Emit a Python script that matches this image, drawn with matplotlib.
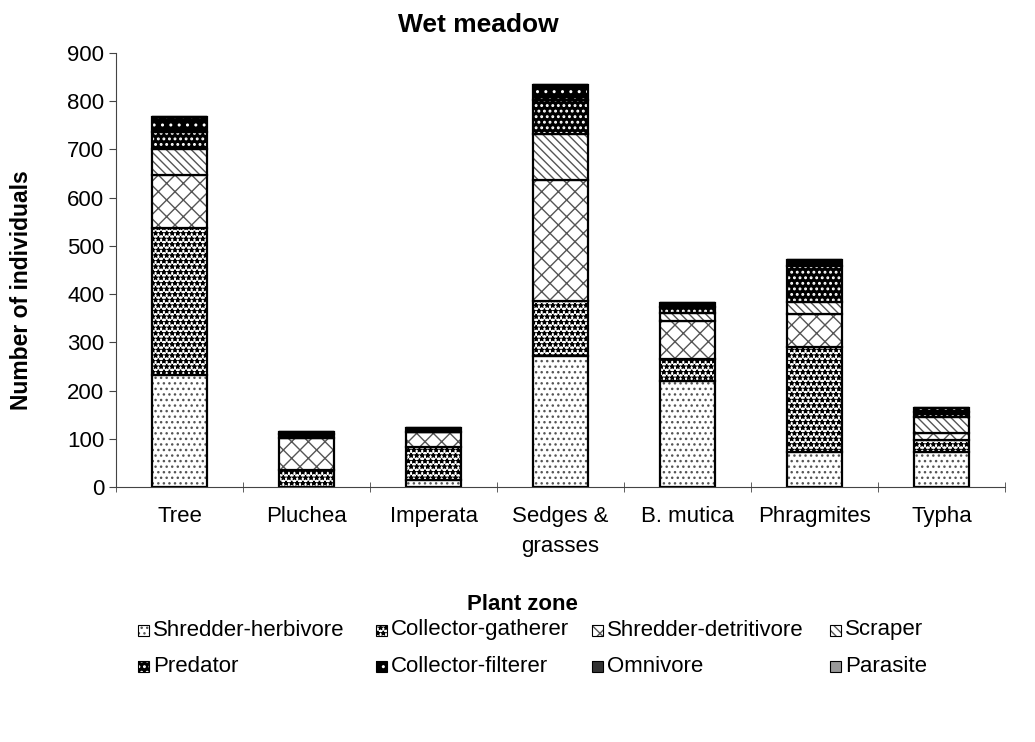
"""Wet meadow: stacked functional feeding groups per plant zone."""

import numpy as np
import matplotlib
matplotlib.use("Agg")
import matplotlib.pyplot as plt
from matplotlib.patches import Rectangle

plt.rcParams["font.family"] = ["Liberation Sans", "DejaVu Sans"]

zones = ["Tree", "Pluchea", "Imperata", "Sedges &\ngrasses", "B. mutica", "Phragmites", "Typha"]
shredder_herbivore = [233, 0, 14, 272, 220, 73, 73]
collector_gatherer = [304, 35, 68, 114, 45, 218, 24]
shredder_detritivore = [111, 66, 32, 251, 79, 67, 14]
scraper = [52, 0, 0, 96, 16, 25, 35]
predator = [37, 8, 0, 70, 14, 76, 9]
collector_filterer = [30, 6, 9, 31, 8, 11, 8]
omnivore = [0, 0, 0, 0, 0, 0, 0]
parasite = [0, 0, 0, 0, 0, 0, 0]

groups = ["Shredder-herbivore", "Collector-gatherer", "Shredder-detritivore", "Scraper",
          "Predator", "Collector-filterer", "Omnivore", "Parasite"]
series = [shredder_herbivore, collector_gatherer, shredder_detritivore, scraper,
          predator, collector_filterer, omnivore, parasite]
# (facecolor, hatch colour, hatch, hatch linewidth)
styles = [
    ("white", "#555555", "...", 1.0),
    ("white", "black", "***", 0.9),
    ("white", "#555555", "xx", 1.0),
    ("white", "#555555", "\\\\\\\\", 1.0),
    ("black", "white", "...", 1.3),
    ("black", "white", "..", 1.0),
    ("#333333", "#333333", None, 1.0),
    ("#999999", "#999999", None, 1.0),
]


def hatch_patch(patch, hlw):
    if hasattr(patch, "set_hatch_linewidth"):
        patch.set_hatch_linewidth(hlw)


W, H = 1035, 742
fig = plt.figure(figsize=(W / 100, H / 100), dpi=100)
ax = fig.add_axes([116 / W, 1 - 487 / H, 889 / W, 434 / H])

x = np.arange(len(zones))
width = 0.44
bottom = np.zeros(len(zones))
for vals, (fc, hc, hatch, hlw) in zip(series, styles):
    vals = np.array(vals, dtype=float)
    with plt.rc_context({"hatch.linewidth": hlw, "hatch.color": hc}):
        bars = ax.bar(x, vals, width, bottom=bottom, color=fc, edgecolor=hc,
                      hatch=hatch, linewidth=0)
        for b in bars:
            hatch_patch(b, hlw)
    ax.bar(x, vals, width, bottom=bottom, fill=False, edgecolor="black", linewidth=1.6)
    bottom += vals

ax.set_xlim(-0.5, len(zones) - 0.5)
ax.set_ylim(0, 900)
ax.set_yticks(range(0, 901, 100))
ax.set_xticks(x)
ax.set_xticklabels(zones, fontsize=16, linespacing=1.55)
ax.set_xticks(np.arange(-0.5, len(zones), 1.0), minor=True)
ax.tick_params(axis="x", which="major", length=0, pad=14)
ax.tick_params(axis="x", which="minor", length=7, direction="inout", color="#444444")
ax.tick_params(axis="y", labelsize=16, length=5, direction="out", color="#444444")
for s in ("top", "right"):
    ax.spines[s].set_visible(False)
ax.spines["left"].set_color("#444444")
ax.spines["bottom"].set_color("#444444")

fig.text(22 / W, 1 - 290 / H, "Number of individuals", fontsize=16.5, fontweight="bold",
         rotation=90, ha="center", va="center")
fig.text(478 / W, 1 - 25 / H, "Wet meadow", fontsize=19, fontweight="bold",
         ha="center", va="center")
fig.text(522 / W, 1 - 604 / H, "Plant zone", fontsize=16, fontweight="bold",
         ha="center", va="center")

# legend laid out in fixed columns, row by row
col_x = [143, 381, 597, 835]
row_y = [630, 666]
box = 11
for i, (name, (fc, hc, hatch, hlw)) in enumerate(zip(groups, styles)):
    cx = col_x[i % 4]
    cy = row_y[i // 4]
    with plt.rc_context({"hatch.linewidth": hlw, "hatch.color": hc}):
        r = Rectangle(((cx - box / 2) / W, 1 - (cy + box / 2) / H), box / W, box / H,
                      transform=fig.transFigure, facecolor=fc, edgecolor=hc,
                      hatch=hatch, linewidth=0)
        hatch_patch(r, hlw)
    fig.add_artist(r)
    fig.add_artist(Rectangle(((cx - box / 2) / W, 1 - (cy + box / 2) / H), box / W, box / H,
                             transform=fig.transFigure, fill=False,
                             edgecolor="black", linewidth=0.8))
    fig.text((cx + 10) / W, 1 - cy / H, name, fontsize=16, ha="left", va="center")

fig.savefig("out.png", dpi=100)
